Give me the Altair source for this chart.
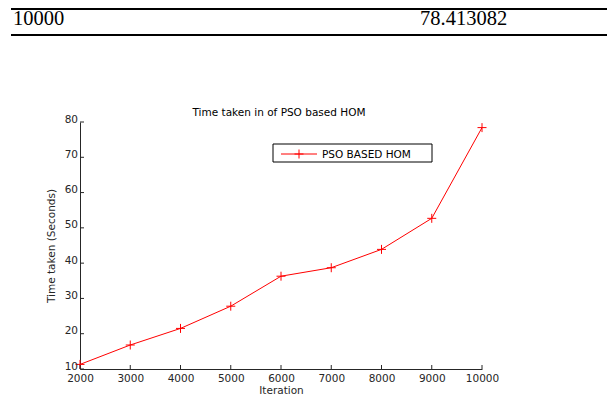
import altair as alt
import pandas as pd

# ---- data ----
iterations = [2000, 3000, 4000, 5000, 6000, 7000, 8000, 9000, 10000]
time_taken = [11.3, 16.8, 21.5, 27.8, 36.3, 38.7, 43.9, 52.7, 78.413082]
x_ticks = [2000, 3000, 4000, 5000, 6000, 7000, 8000, 9000, 10000]
y_ticks = [10, 20, 30, 40, 50, 60, 70, 80]
series_name = ["PSO BASED HOM"]
chart_title = ["Time taken in of PSO based HOM"]
x_title = "Iteration"
y_title = "Time taken (Seconds)"
table_left = [str(iterations[-1])]
table_right = ["%.6f" % time_taken[-1]]

FONT = "DejaVu Sans"
SERIF = "Liberation Serif"
RED = "#ff0000"
AX = "#262626"
PLUS = "M-1,0L1,0M0,-1L0,1"
FS = 10.5

df = pd.DataFrame({"Iteration": iterations, "Time": time_taken})
x_scale = alt.Scale(domain=[2000, 10000], nice=False, zero=False)
y_scale = alt.Scale(domain=[10, 80], nice=False, zero=False)

line = alt.Chart(df).mark_line(color=RED, strokeWidth=1).encode(
    x=alt.X("Iteration:Q", scale=x_scale, title=x_title,
            axis=alt.Axis(values=x_ticks, format="d", grid=False, tickSize=0,
                          labelPadding=4, titlePadding=2, labelOverlap=False,
                          labelFlush=False, titleFontWeight="normal")),
    y=alt.Y("Time:Q", scale=y_scale, title=y_title,
            axis=alt.Axis(values=y_ticks, labels=False, grid=False, tickSize=0,
                          titlePadding=23, titleFontWeight="normal")),
)
points = alt.Chart(df).mark_point(shape=PLUS, size=81, color=RED, filled=False,
                                  strokeWidth=1, opacity=1).encode(
    x=alt.X("Iteration:Q", scale=x_scale, title=x_title),
    y=alt.Y("Time:Q", scale=y_scale, title=y_title),
)

# inward tick marks (Matlab style) and y tick labels
xt = alt.Chart(pd.DataFrame({"t": x_ticks})).mark_rule(color=AX, strokeWidth=1).encode(
    x=alt.X("t:Q", scale=x_scale, title=x_title),
    y=alt.value(247), y2=alt.value(243),
)
ydf = pd.DataFrame({"t": y_ticks})
yt = alt.Chart(ydf).mark_rule(color=AX, strokeWidth=1).encode(
    y=alt.Y("t:Q", scale=y_scale, title=y_title),
    x=alt.value(0), x2=alt.value(4),
)
ylab = alt.Chart(ydf).mark_text(align="right", baseline="middle", font=FONT,
                                fontSize=FS, color=AX, dy=-2.5).encode(
    y=alt.Y("t:Q", scale=y_scale, title=y_title),
    x=alt.value(-2), text=alt.Text("t:Q", format="d"),
)

# chart title
ttl = alt.Chart(pd.DataFrame({"c": chart_title})).mark_text(
    align="center", baseline="alphabetic", font=FONT, fontSize=FS, color="black").encode(
    x=alt.value(199), y=alt.value(-6), text="c:N")

# legend box
one = pd.DataFrame({"label": series_name})
leg_box = alt.Chart(one).mark_rect(fill="white", stroke="black", strokeWidth=1).encode(
    x=alt.value(193), x2=alt.value(352), y=alt.value(22), y2=alt.value(40))
leg_line = alt.Chart(one).mark_rule(color=RED, strokeWidth=1).encode(
    x=alt.value(201), x2=alt.value(237), y=alt.value(32))
leg_pt = alt.Chart(one).mark_point(shape=PLUS, size=81, color=RED, filled=False,
                                   strokeWidth=1, opacity=1).encode(
    x=alt.value(219), y=alt.value(32))
leg_txt = alt.Chart(one).mark_text(align="left", baseline="middle", font=FONT,
                                   fontSize=FS, color="black").encode(
    x=alt.value(242), y=alt.value(32.5), text="label:N")

# table row above the figure
tl = pd.DataFrame({"c": table_left})
tr = pd.DataFrame({"c": table_right})
t_left = alt.Chart(tl).mark_text(align="left", baseline="alphabetic", font=SERIF,
                                 fontSize=20.5, color="black").encode(
    x=alt.value(-67), y=alt.value(-97), text="c:N")
t_right = alt.Chart(tr).mark_text(align="left", baseline="alphabetic", font=SERIF,
                                  fontSize=20.5, color="black").encode(
    x=alt.value(340), y=alt.value(-97), text="c:N")
rule_top = alt.Chart(tl).mark_rule(color="black", strokeWidth=2).encode(
    x=alt.value(-69), x2=alt.value(540), y=alt.value(-113))
rule_bot = alt.Chart(tl).mark_rule(color="black", strokeWidth=2).encode(
    x=alt.value(-69), x2=alt.value(540), y=alt.value(-87))

chart = alt.layer(
    line, points, xt, yt, ylab, ttl, leg_box, leg_line, leg_pt, leg_txt,
    t_left, t_right, rule_top, rule_bot,
).properties(
    width=402, height=247,
    background="white",
    autosize=alt.AutoSizeParams(type="none"),
    padding={"left": 72, "top": 114, "right": 125, "bottom": 27},
).configure_view(stroke=None).configure_axis(
    labelFont=FONT, labelFontSize=FS, labelColor=AX, labelOverlap=False,
    titleFont=FONT, titleFontSize=FS, titleColor=AX, titleFontWeight="normal",
    domainColor=AX, domainWidth=1, grid=False,
)

chart.save("out.html", embed_options={"renderer": "svg", "actions": False})
